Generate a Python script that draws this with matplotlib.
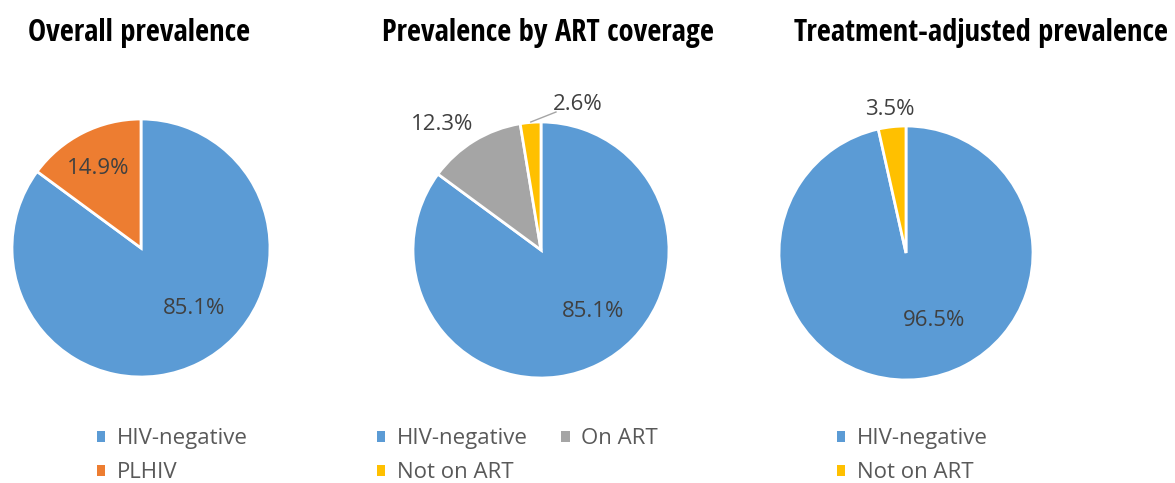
import matplotlib.pyplot as plt
from matplotlib.patches import Patch

W, H = 1175, 483

BLUE = "#5b9bd5"
ORANGE = "#ed7d31"
GREY = "#a5a5a5"
YELLOW = "#ffc000"
TXT = "#404040"
LEG = "#595959"

# data
titles = ["Overall prevalence", "Prevalence by ART coverage", "Treatment-adjusted prevalence"]
overall_labels = ["HIV-negative", "PLHIV"]
overall_values = [85.1, 14.9]
art_labels = ["HIV-negative", "On ART", "Not on ART"]
art_values = [85.1, 12.3, 2.6]
adj_labels = ["HIV-negative", "Not on ART"]
adj_values = [96.5, 3.5]

panels = [
    dict(labels=overall_labels, values=overall_values, colors=[BLUE, ORANGE],
         center=(141, 248), r=129, title_x=139,
         label_pos=[(0.41, -0.47), (-0.33, 0.62)],
         leg_x=97, leg_order=[0, 1], ncol=1),
    dict(labels=art_labels, values=art_values, colors=[BLUE, GREY, YELLOW],
         center=(541, 250), r=128, title_x=548,
         label_pos=[(0.41, -0.48), (-0.77, 0.98), (0.29, 1.14)],
         leg_x=377, leg_order=[0, 2, 1], ncol=2,
         leader=((-0.08, 1.0), (0.117, 1.078))),
    dict(labels=adj_labels, values=adj_values, colors=[BLUE, YELLOW],
         center=(906, 253), r=127, title_x=981,
         label_pos=[(0.22, -0.53), (-0.13, 1.13)],
         leg_x=837, leg_order=[0, 1], ncol=1),
]

fig = plt.figure(figsize=(W / 100, H / 100), dpi=100)

for t, p in zip(titles, panels):
    fig.text(p["title_x"] / W, 1 - 33 / H, t, ha="center", va="center",
             fontsize=22, fontweight="bold", family="Open Sans Condensed", color="black")

    cx, cy = p["center"]
    r = p["r"]
    ax = fig.add_axes([(cx - r) / W, (H - cy - r) / H, 2 * r / W, 2 * r / H])
    wedges, _ = ax.pie(p["values"], colors=p["colors"], startangle=90, counterclock=False,
                       wedgeprops=dict(edgecolor="white", linewidth=2))
    ax.set_xlim(-1, 1)
    ax.set_ylim(-1, 1)
    ax.set_aspect("equal")
    for w in wedges:
        w.set_clip_on(False)

    for v, (lx, ly) in zip(p["values"], p["label_pos"]):
        ax.text(lx, ly, f"{v:.1f}%", ha="center", va="center", fontsize=16,
                color=TXT, family="Open Sans", clip_on=False)
    if "leader" in p:
        (x0, y0), (x1, y1) = p["leader"]
        ax.plot([x0, x1], [y0, y1], color=GREY, lw=1, clip_on=False)

    handles = [Patch(facecolor=p["colors"][i], edgecolor="none") for i in p["leg_order"]]
    names = [p["labels"][i] for i in p["leg_order"]]
    fig.legend(handles, names, loc="upper left", bbox_to_anchor=(p["leg_x"] / W, 1 - 428 / H),
               ncol=p["ncol"], frameon=False, handlelength=0.38, handleheight=0.38,
               handletextpad=0.52, labelspacing=0.6, columnspacing=1.5, borderpad=0,
               borderaxespad=0, prop=dict(family="Open Sans", size=16), labelcolor=LEG)

fig.savefig("out.png", dpi=100)
